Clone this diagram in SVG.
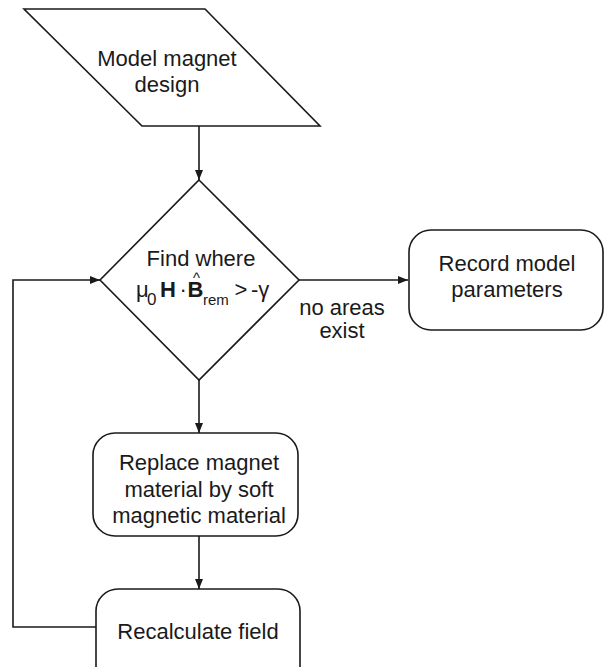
<svg xmlns="http://www.w3.org/2000/svg" width="604" height="667" viewBox="0 0 604 667">
<style>
.s{fill:#fff;stroke:#1a1a1a;stroke-width:1.6}
.t{font-family:"Liberation Sans",Arial,sans-serif;font-size:22px;fill:#1a1a1a;text-anchor:middle}
.m{font-family:"Liberation Sans",Arial,sans-serif;font-size:22px;fill:#1a1a1a}
.b{font-weight:bold}
.c{fill:none;stroke:#1a1a1a;stroke-width:1.6}
</style>
<defs>
<marker id="ah" viewBox="0 0 10 8" refX="10" refY="4" markerWidth="10" markerHeight="8" markerUnits="userSpaceOnUse" orient="auto">
<path d="M0,0 L10,4 L0,8 Z" fill="#1a1a1a"/>
</marker>
</defs>
<rect width="604" height="667" fill="#fff"/>
<g id="connectors">
<line class="c" x1="199" y1="126" x2="199" y2="180" marker-end="url(#ah)"/>
<line class="c" x1="199" y1="380" x2="199" y2="433" marker-end="url(#ah)"/>
<line class="c" x1="199" y1="536" x2="199" y2="589" marker-end="url(#ah)"/>
<line class="c" x1="299" y1="280" x2="408" y2="280" marker-end="url(#ah)"/>
<polyline class="c" points="96,627 13,627 13,280 100,280" marker-end="url(#ah)"/>
<text class="t" x="342" y="315">no areas</text>
<text class="t" x="342" y="338">exist</text>
</g>
<g id="model">
<polygon class="s" points="24,9 205,9 320,126 142,126"/>
<text class="t" x="167" y="66">Model magnet</text>
<text class="t" x="167" y="92">design</text>
</g>
<g id="find">
<polygon class="s" points="199,180 299,280 199,380 100,280"/>
<text class="t" x="201" y="266">Find where</text>
<text class="m"><tspan x="136" y="297">μ</tspan><tspan x="147" y="305" style="font-size:17px">0</tspan><tspan class="b" x="160" y="297">H</tspan><tspan x="179.5" y="297">·</tspan><tspan class="b" x="187.5" y="297">B</tspan><tspan x="203" y="305" style="font-size:15px">rem</tspan><tspan x="234.5" y="297">&gt;</tspan><tspan x="251" y="297">-γ</tspan></text>
<text class="m" x="193" y="283" style="font-size:15px">^</text>
</g>
<g id="record">
<rect class="s" x="409" y="230" width="194" height="100" rx="22"/>
<text class="t" x="507" y="271">Record model</text>
<text class="t" x="507" y="297">parameters</text>
</g>
<g id="replace">
<rect class="s" x="93" y="433" width="205" height="103" rx="22"/>
<text class="t" x="199" y="470">Replace magnet</text>
<text class="t" x="199" y="497">material by soft</text>
<text class="t" x="199" y="523">magnetic material</text>
</g>
<g id="recalc">
<rect class="s" x="96" y="589" width="204" height="100" rx="22"/>
<text class="t" x="198" y="639">Recalculate field</text>
</g>
</svg>
